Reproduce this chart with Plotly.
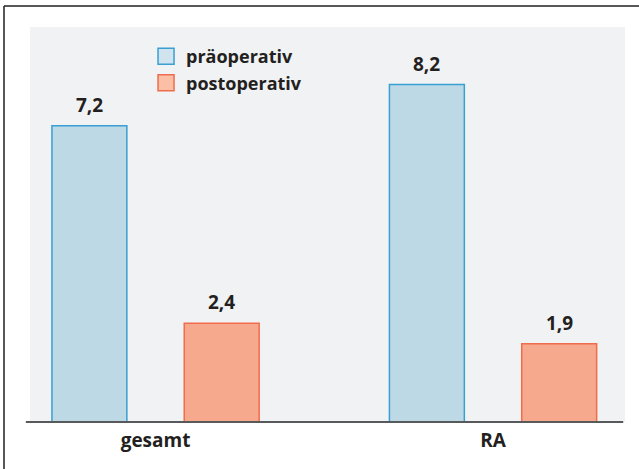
import plotly.graph_objects as go

categories = ["gesamt", "RA"]
series_names = ["präoperativ", "postoperativ"]
pre_values = [7.2, 8.2]
post_values = [2.4, 1.9]
pre_labels = ["7,2", "8,2"]
post_labels = ["2,4", "1,9"]

FONT = "Open Sans"
TXT = "#231f20"
x_pos = [0, 1]

fig = go.Figure()
fig.add_trace(go.Bar(
    x=x_pos, y=pre_values, name=series_names[0], width=0.222, offset=-0.307,
    marker=dict(color="#bdd9e6", line=dict(color="#3a9fd2", width=1.5)),
    showlegend=False,
))
fig.add_trace(go.Bar(
    x=x_pos, y=post_values, name=series_names[1], width=0.222, offset=0.085,
    marker=dict(color="#f6a98d", line=dict(color="#ef6d4d", width=1.5)),
    showlegend=False,
))
# legend entries
fig.add_trace(go.Scatter(
    x=[None], y=[None], mode="markers", name=series_names[0],
    marker=dict(symbol="square", size=16, color="#cfe4ee", line=dict(color="#3a9fd2", width=1.5)),
))
fig.add_trace(go.Scatter(
    x=[None], y=[None], mode="markers", name=series_names[1],
    marker=dict(symbol="square", size=16, color="#fbbfa6", line=dict(color="#ef6d4d", width=1.5)),
))

for xi, v, lab in zip([p - 0.196 for p in x_pos], pre_values, pre_labels):
    fig.add_annotation(x=xi, y=v, text=lab, showarrow=False,
                       yanchor="bottom", yshift=6,
                       font=dict(family=FONT, size=19, color=TXT, weight="bold"))
for xi, v, lab in zip([p + 0.196 for p in x_pos], post_values, post_labels):
    fig.add_annotation(x=xi, y=v, text=lab, showarrow=False,
                       yanchor="bottom", yshift=6,
                       font=dict(family=FONT, size=19, color=TXT, weight="bold"))

# frame (top and left)
fig.add_shape(type="line", xref="paper", yref="paper", x0=-0.0437, x1=1.03, y0=1.0532, y1=1.0532,
              line=dict(color="#231f20", width=1.5))
fig.add_shape(type="line", xref="paper", yref="paper", x0=-0.0437, x1=-0.0437, y0=1.0532, y1=-0.15,
              line=dict(color="#231f20", width=1.5))
# axis baseline extends slightly left of plot area
fig.add_shape(type="line", xref="paper", yref="paper", x0=-0.007, x1=0.997, y0=0, y1=0,
              line=dict(color="#58595b", width=2))

fig.update_layout(
    width=639, height=469,
    margin=dict(l=30, r=14, t=27, b=47),
    paper_bgcolor="white", plot_bgcolor="#f1f2f4",
    font=dict(family=FONT, size=19, color=TXT),
    showlegend=True,
    legend=dict(x=0.195, y=0.972, xanchor="left", yanchor="top", bgcolor="rgba(0,0,0,0)",
                font=dict(family=FONT, size=18, color=TXT, weight="bold"),
                tracegroupgap=0, itemwidth=30),
    xaxis=dict(range=[-0.372, 1.391], tickvals=x_pos, ticktext=categories,
               showgrid=False, zeroline=False, showline=False,
               ticks="", ticklabelstandoff=5,
               tickfont=dict(family=FONT, size=19, color=TXT, weight="bold")),
    yaxis=dict(range=[0, 9.6], showgrid=False, zeroline=False, showticklabels=False, ticks=""),
)

fig.write_html("out.html", config={"displayModeBar": False},
               post_script="document.body.style.margin='0px';document.body.style.overflow='hidden';")
